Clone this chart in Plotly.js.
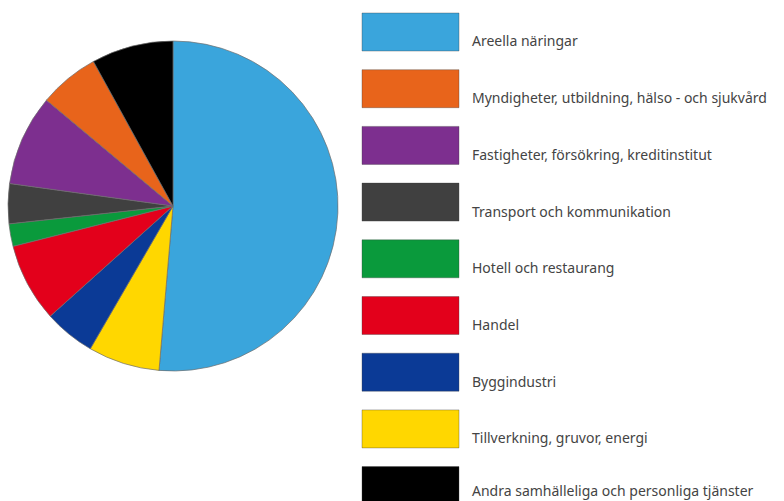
<!DOCTYPE html>
<html>
<head>
<meta charset="utf-8">
<script src="https://cdn.plot.ly/plotly-3.0.1.min.js"></script>
<style>html,body{margin:0;padding:0;background:#fff;}#chart{width:784px;height:501px;}</style>
</head>
<body>
<div id="chart"></div>
<script>
// Slice order (clockwise from 12 o'clock)
const sliceLabels = ["Areella näringar", "Tillverkning, gruvor, energi", "Byggindustri", "Handel", "Hotell och restaurang", "Transport och kommunikation", "Fastigheter, försökring, kreditinstitut", "Myndigheter, utbildning, hälso - och sjukvård", "Andra samhälleliga och personliga tjänster"];
const sliceValues = [51.3, 7.0, 5.0, 7.7, 2.2, 3.9, 8.9, 5.9, 8.0];
const sliceColors = ["#3aa5dc", "#ffd700", "#0b3a96", "#e3001b", "#0a9a3c", "#404040", "#7d2f8f", "#e8641b", "#000000"];

// Legend order as in the reference
const legendLabels = ["Areella näringar", "Myndigheter, utbildning, hälso - och sjukvård", "Fastigheter, försökring, kreditinstitut", "Transport och kommunikation", "Hotell och restaurang", "Handel", "Byggindustri", "Tillverkning, gruvor, energi", "Andra samhälleliga och personliga tjänster"];

const W = 784, H = 501;
const px = x => x / W;
const py = y => 1 - y / H;

const shapes = [];
const annotations = [];
legendLabels.forEach((lab, i) => {
  const idx = sliceLabels.indexOf(lab);
  const col = sliceColors[idx];
  const top = 13 + i * 56.7;
  shapes.push({
    type: 'rect', xref: 'paper', yref: 'paper',
    x0: px(362), x1: px(459), y0: py(top), y1: py(top + 38),
    fillcolor: col, line: {color: 'rgba(60,60,60,0.35)', width: 1}
  });
  annotations.push({
    xref: 'paper', yref: 'paper', x: px(470), y: py(Math.min(top + 28, 490)),
    xanchor: 'left', yanchor: 'middle', showarrow: false,
    text: lab, font: {family: 'Noto Sans, sans-serif', size: 14, color: '#444'}
  });
});

const data = [{
  type: 'pie',
  labels: sliceLabels,
  values: sliceValues,
  sort: false,
  direction: 'clockwise',
  rotation: 0,
  textinfo: 'none',
  hoverinfo: 'label+percent',
  marker: {colors: sliceColors, line: {color: 'rgba(110,110,110,0.7)', width: 1}},
  domain: {x: [px(8), px(338)], y: [py(371), py(41)]},
  showlegend: false
}];

const layout = {
  width: W, height: H,
  margin: {l: 0, r: 0, t: 0, b: 0},
  paper_bgcolor: '#fff', plot_bgcolor: '#fff',
  showlegend: false,
  shapes: shapes,
  annotations: annotations
};

Plotly.newPlot('chart', data, layout, {displayModeBar: false, staticPlot: true});
</script>
</body>
</html>
